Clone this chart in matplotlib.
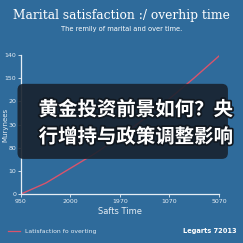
import matplotlib
matplotlib.use("Agg")
import matplotlib.pyplot as plt
import matplotlib.patheffects as pe
from matplotlib.patches import FancyBboxPatch
import numpy as np

# values
x_pos = [0, 0.5, 1, 1.5, 2, 2.5, 3, 3.5, 4]
satisfaction = [0, 11, 26, 41, 58, 76, 96, 117, 139]
x_labels = ["950", "2000", "1970", "1070", "5070"]
y_labels = ["0", "10", "80", "30", "20", "150", "140"]

bg = "#2f6b9b"
fg = "#e6eef5"

fig = plt.figure(figsize=(2.43, 2.43), dpi=100, facecolor=bg)
ax = fig.add_axes([0.0864, 0.2016, 0.8148, 0.572], facecolor=bg)

ax.plot(x_pos, satisfaction, color="#d9546c", lw=1.0)
ax.set_xlim(0, 4)
ax.set_ylim(0, 140)
ax.set_xticks(range(5))
ax.set_xticklabels(x_labels)
ax.set_yticks(np.linspace(0, 140, 7))
ax.set_yticklabels(y_labels)
ax.tick_params(colors=fg, labelsize=4.5, length=2, width=0.6, pad=1.5)
for s in ["top", "right"]:
    ax.spines[s].set_visible(False)
for s in ["left", "bottom"]:
    ax.spines[s].set_color(fg)
    ax.spines[s].set_linewidth(0.9)
ax.set_xlabel("Safts Time", color=fg, fontsize=6, labelpad=2)
fig.text(0.024, 0.487, "Murynees", color=fg, fontsize=5, rotation=90,
         ha="center", va="center")

fig.text(0.5, 0.938, "Marital satisfaction :/ overhip time", color="white",
         fontsize=8.8, family="DejaVu Serif", ha="center", va="center")
fig.text(0.5, 0.88, "The remily of marital and over time.", color="white",
         fontsize=4.8, ha="center", va="center")

# legend line + text
fig.add_artist(plt.Line2D([0.033, 0.083], [0.049, 0.049], color="#d9546c",
                          lw=0.9, transform=fig.transFigure))
fig.text(0.103, 0.049, "Latisfaction fo overting", color=fg, fontsize=4.4,
         ha="left", va="center")
fig.text(0.972, 0.049, "Legarts 72013", color="white", fontsize=4.8,
         fontweight="bold", ha="right", va="center")

# dark overlay card
box = FancyBboxPatch((0.072, 0.346), 0.866, 0.309,
                     boxstyle="round,pad=0,rounding_size=0.025",
                     transform=fig.transFigure, facecolor="#18222e",
                     edgecolor="none", alpha=0.9)
fig.patches.append(box)

stroke = [pe.withStroke(linewidth=2.5, foreground="#111820")]
cjk = ["Noto Sans CJK SC", "DejaVu Sans"]
fig.text(0.56, 0.548, "黄金投资前景如何？央", color="white", fontsize=14,
         family=cjk, fontweight="bold", ha="center", va="center",
         path_effects=stroke)
fig.text(0.56, 0.436, "行增持与政策调整影响", color="white", fontsize=14,
         family=cjk, fontweight="bold", ha="center", va="center",
         path_effects=stroke)

fig.savefig("out.png", dpi=100, facecolor=bg)
